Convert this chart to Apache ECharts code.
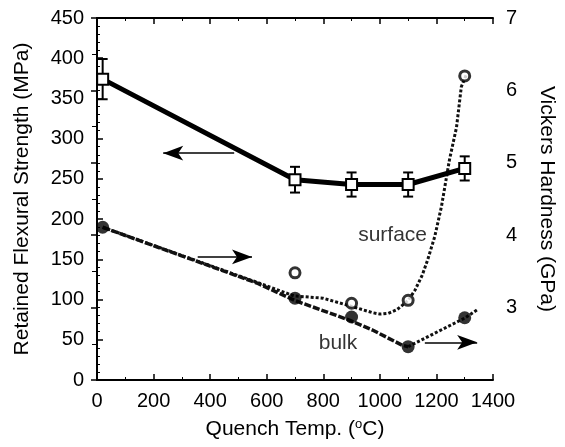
<!DOCTYPE html>
<html><head><meta charset="utf-8">
<script src="https://cdn.jsdelivr.net/npm/echarts@6/dist/echarts.min.js"></script>
<style>html,body{margin:0;padding:0;background:#fff}#c{width:565px;height:447px}</style>
</head><body><div id="c"></div>
<script>
// ---- data ----
const flexTemp = [20, 700, 900, 1100, 1300];
const flexStrength = [374, 249, 243, 243, 263];
const flexErr = [25, 16, 15, 15, 15];
const surfTemp = [700, 900, 1100, 1300];
const surfHard = [3.48, 3.06, 3.10, 6.20];
const bulkTemp = [20, 700, 900, 1100, 1300];
const bulkHard = [4.11, 3.13, 2.87, 2.46, 2.86];
const surfCurveT = [20, 565, 698, 799, 897, 974, 1000, 1030, 1060, 1079, 1100, 1124, 1150, 1169, 1194, 1218, 1246, 1271, 1288, 1305];
const surfCurveH = [4.11, 3.35, 3.16, 3.13, 3.02, 2.93, 2.91, 2.92, 2.97, 3.03, 3.10, 3.24, 3.45, 3.66, 3.98, 4.40, 5.04, 5.49, 6.05, 6.21];
const bulkFitT = [20, 565, 698, 890, 974, 1079, 1100];
const bulkFitH = [4.11, 3.34, 3.10, 2.83, 2.69, 2.48, 2.46];
const bulkTailT = [1100, 1302, 1344];
const bulkTailH = [2.46, 2.86, 2.97];
// annotation arrows: [fromX, fromY, toX, toY]
const arrowLeftAxis = [[485, 282, 234, 282]];           // left axis units
const arrowRightAxis = [[356, 3.70, 548, 3.70], [1159, 2.52, 1344, 2.52]]; // right axis units
const textLabels = [{ t: 'surface', x: 1045, y: 4.0 }, { t: 'bulk', x: 852, y: 2.51 }];
const xTicks = { min: 0, max: 1400, step: 200 };
const yLeftTicks = { min: 0, max: 450, step: 50 };
const yRightTicks = { min: 2, max: 7, step: 1 };

const zip = (a, b) => a.map((v, i) => [v, b[i]]);
const FONT = 'Liberation Sans, Arial, Helvetica, sans-serif';
const axisCommon = {
  axisLine: { show: true, lineStyle: { color: '#000', width: 2 } },
  axisTick: { show: true, inside: true, length: 6, lineStyle: { color: '#000', width: 1.5 } },
  minorTick: { show: true, length: 3, lineStyle: { color: '#000', width: 1 } },
  splitLine: { show: false },
  axisLabel: { color: '#000', fontSize: 20, fontFamily: FONT, formatter: v => String(v) },
  nameTextStyle: { color: '#000', fontSize: 21, fontFamily: FONT }
};

const chart = echarts.init(document.getElementById('c'), null, { renderer: 'canvas' });
chart.setOption({
  animation: false,
  backgroundColor: '#fff',
  grid: { left: 97, right: 66, top: 18, bottom: 67, containLabel: false },
  xAxis: [
    Object.assign({}, axisCommon, {
      type: 'value', min: xTicks.min, max: xTicks.max, interval: xTicks.step,
      minorTick: Object.assign({}, axisCommon.minorTick, { splitNumber: 2 }),
      axisLabel: Object.assign({}, axisCommon.axisLabel, { margin: 11 }),
      name: 'Quench Temp. ({sup|o}C)', nameLocation: 'middle', nameGap: 38,
      nameTextStyle: Object.assign({}, axisCommon.nameTextStyle, {
        rich: { sup: { fontSize: 13, verticalAlign: 'top', padding: [0, 0, 9, 0], fontFamily: FONT, color: '#000' } }
      })
    }),
    Object.assign({}, axisCommon, {
      type: 'value', position: 'top', min: xTicks.min, max: xTicks.max, interval: xTicks.step,
      minorTick: Object.assign({}, axisCommon.minorTick, { splitNumber: 2 }),
      axisLabel: { show: false }
    })
  ],
  yAxis: [
    Object.assign({}, axisCommon, {
      type: 'value', min: yLeftTicks.min, max: yLeftTicks.max, interval: yLeftTicks.step,
      minorTick: Object.assign({}, axisCommon.minorTick, { splitNumber: 5 }),
      axisLabel: Object.assign({}, axisCommon.axisLabel, { margin: 13 }),
      name: 'Retained Flexural Strength (MPa)', nameLocation: 'middle', nameGap: 64
    }),
    Object.assign({}, axisCommon, {
      type: 'value', position: 'right', min: yRightTicks.min, max: yRightTicks.max, interval: yRightTicks.step,
      minorTick: Object.assign({}, axisCommon.minorTick, { splitNumber: 2, length: 5 }),
      axisLabel: Object.assign({}, axisCommon.axisLabel, { margin: 13, formatter: v => v === yRightTicks.min ? '' : String(v) }),
      name: 'Vickers Hardness (GPa)', nameLocation: 'middle', nameGap: 43, nameRotate: -90
    })
  ],
  series: [
    { // surface curve (dotted)
      type: 'line', yAxisIndex: 1, data: zip(surfCurveT, surfCurveH), showSymbol: false,
      lineStyle: { color: '#111', width: 3, type: [3, 2] }, z: 2
    },
    { // bulk fit (dashed thick)
      type: 'line', yAxisIndex: 1, data: zip(bulkFitT, bulkFitH), showSymbol: false,
      lineStyle: { color: '#111', width: 3.5, type: [7, 2] }, z: 2
    },
    { // bulk tail (dotted)
      type: 'line', yAxisIndex: 1, data: zip(bulkTailT, bulkTailH), showSymbol: false,
      lineStyle: { color: '#111', width: 3, type: [3, 2] }, z: 2,
      markLine: {
        silent: true, symbol: ['none', 'arrow'], symbolSize: [11, 20], label: { show: false },
        lineStyle: { color: '#000', width: 1.5, type: 'solid' },
        data: arrowRightAxis.map(a => [{ coord: [a[0], a[1]] }, { coord: [a[2], a[3]] }])
      }
    },
    { // surface points
      type: 'scatter', yAxisIndex: 1, data: zip(surfTemp, surfHard), symbol: 'circle', symbolSize: 10,
      itemStyle: { color: '#fff', borderColor: '#000', borderWidth: 3 }, z: 5
    },
    { // bulk points
      type: 'scatter', yAxisIndex: 1, data: zip(bulkTemp, bulkHard), symbol: 'circle', symbolSize: 13,
      itemStyle: { color: '#000' }, z: 5
    },
    { // flexural error bars
      type: 'custom', yAxisIndex: 0, z: 6,
      data: flexTemp.map((t, i) => [t, flexStrength[i] - flexErr[i], flexStrength[i] + flexErr[i]]),
      renderItem: function (params, api) {
        const lo = api.coord([api.value(0), api.value(1)]);
        const hi = api.coord([api.value(0), api.value(2)]);
        const w = 5;
        const st = { stroke: '#000', lineWidth: 2 };
        return { type: 'group', children: [
          { type: 'line', shape: { x1: lo[0], y1: lo[1], x2: hi[0], y2: hi[1] }, style: st },
          { type: 'line', shape: { x1: lo[0] - w, y1: lo[1], x2: lo[0] + w, y2: lo[1] }, style: st },
          { type: 'line', shape: { x1: hi[0] - w, y1: hi[1], x2: hi[0] + w, y2: hi[1] }, style: st }
        ] };
      }
    },
    { // flexural strength line
      type: 'line', yAxisIndex: 0, data: zip(flexTemp, flexStrength), symbol: 'rect', symbolSize: 11,
      lineStyle: { color: '#000', width: 5 }, itemStyle: { color: '#fff', borderColor: '#000', borderWidth: 2 }, z: 7,
      markLine: {
        silent: true, symbol: ['none', 'arrow'], symbolSize: [11, 20], label: { show: false },
        lineStyle: { color: '#000', width: 1.5, type: 'solid' },
        data: arrowLeftAxis.map(a => [{ coord: [a[0], a[1]] }, { coord: [a[2], a[3]] }])
      }
    },
    { // text labels
      type: 'scatter', yAxisIndex: 1, symbolSize: 0, silent: true, z: 8,
      data: textLabels.map(l => ({ value: [l.x, l.y], name: l.t })),
      label: { show: true, position: 'inside', formatter: p => p.name, color: '#000', fontSize: 21, fontFamily: FONT }
    }
  ]
});
</script></body></html>
